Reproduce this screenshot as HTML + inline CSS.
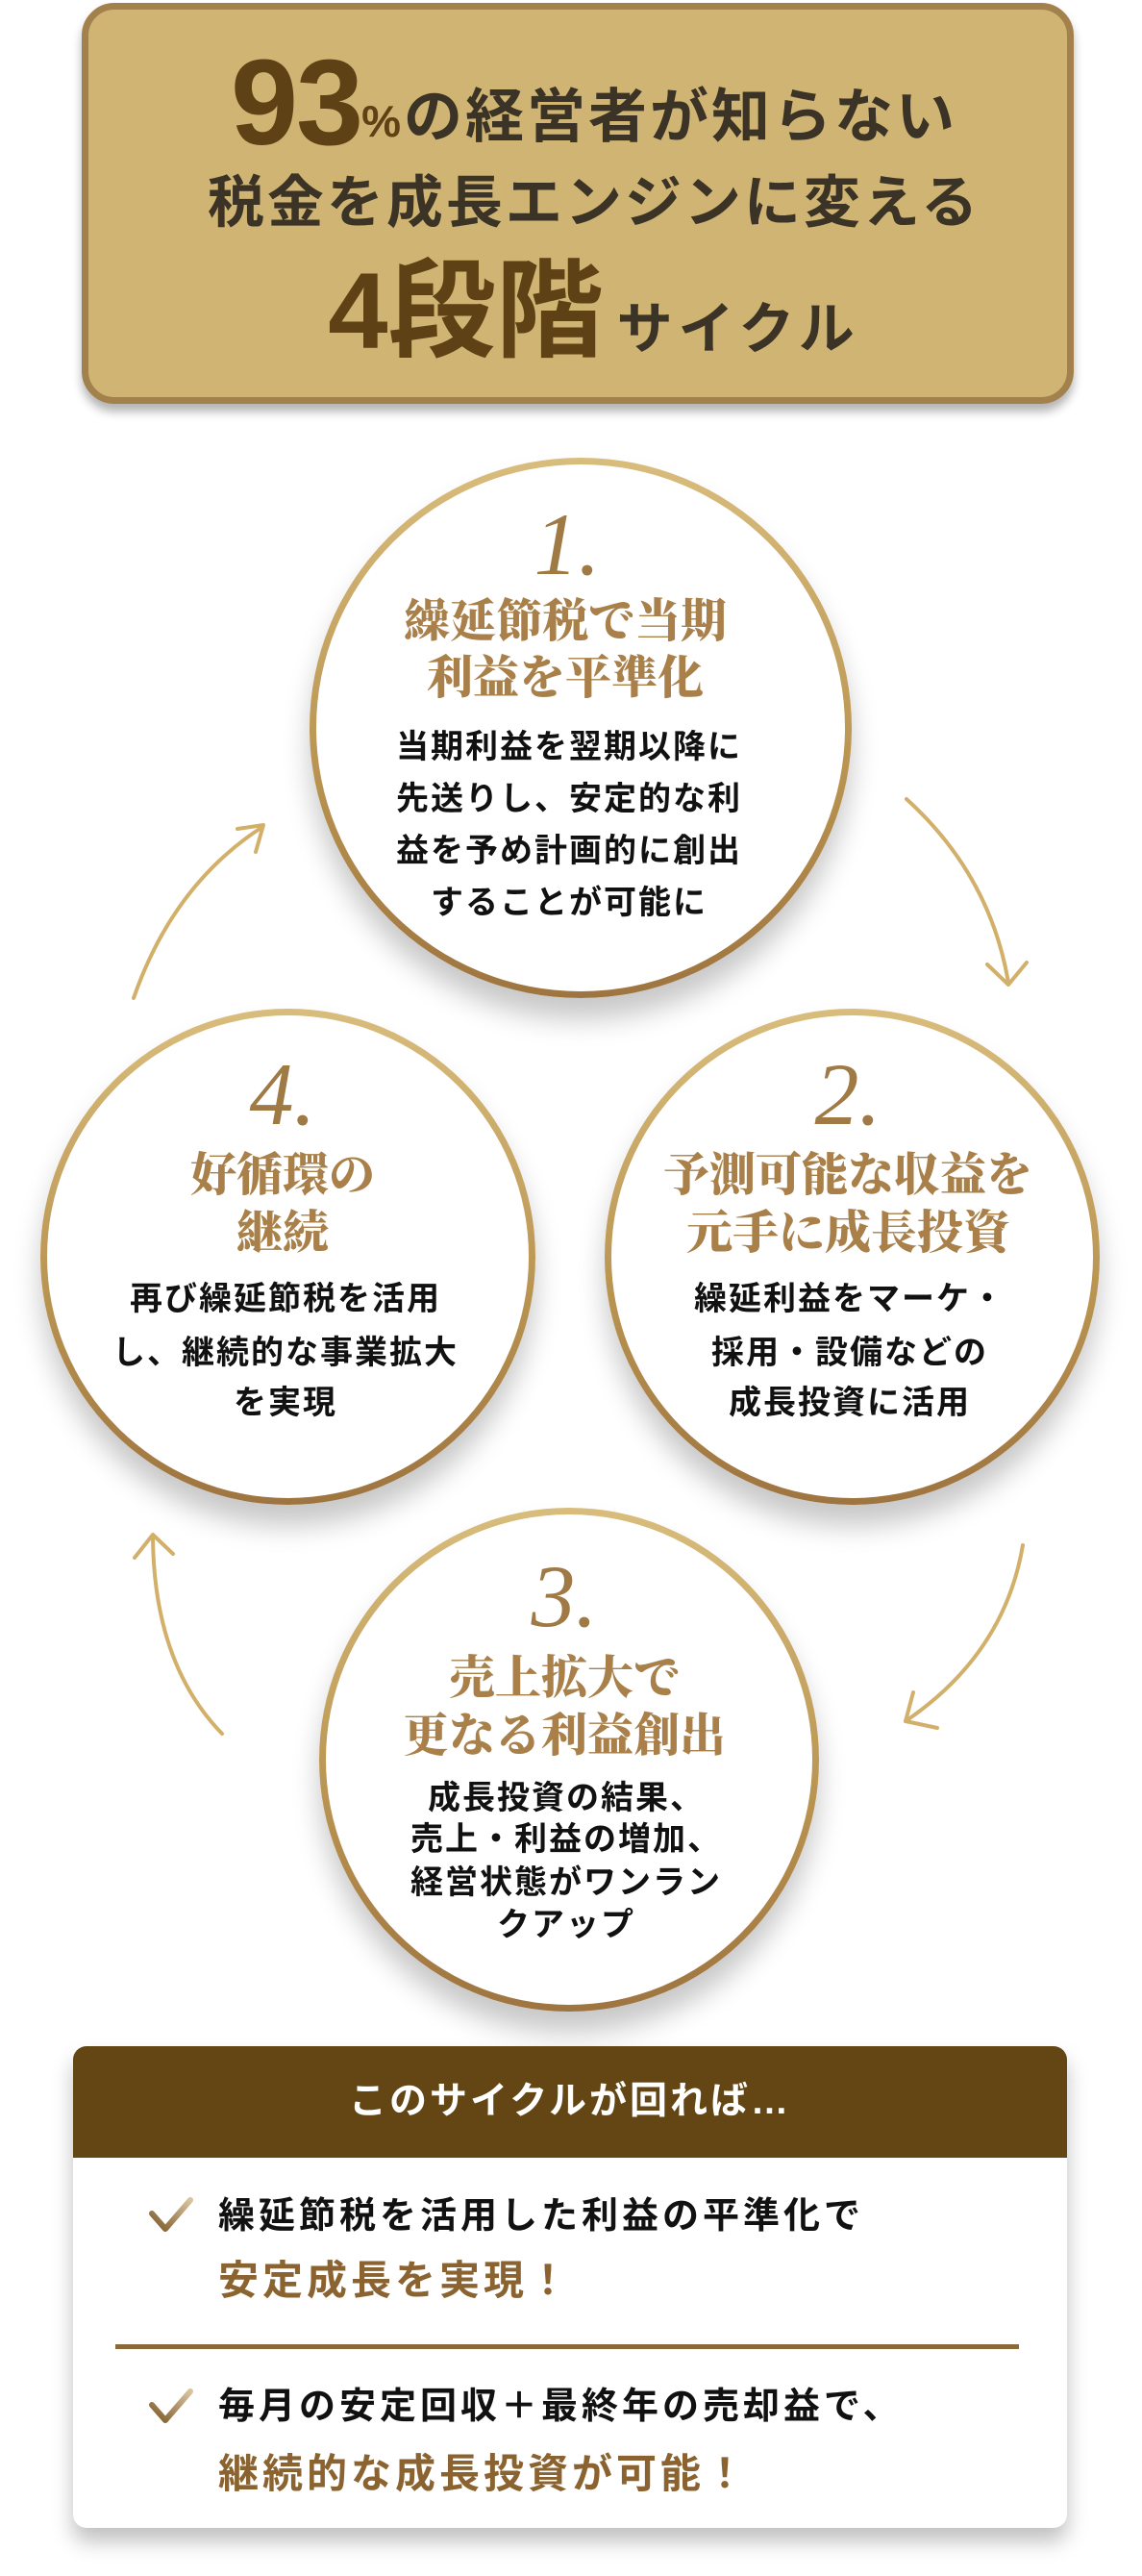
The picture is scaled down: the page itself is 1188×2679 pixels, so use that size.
<!DOCTYPE html>
<html><head><meta charset="utf-8"><style>
*{margin:0;padding:0;box-sizing:border-box}
body{width:1188px;height:2679px;background:#fff;position:relative;overflow:hidden;font-family:"Liberation Sans","Noto Sans CJK JP",sans-serif}
.abs{position:absolute}
.hdr{left:85px;top:3px;width:1032px;height:417px;border:7px solid #a3814d;background:#cfb473;border-radius:34px;box-shadow:0 8px 10px rgba(0,0,0,.3)}
.ln{position:absolute;white-space:nowrap;text-align:center;font-weight:700}
.ring{position:absolute;border-radius:50%;background:linear-gradient(180deg,#d9bd7d,#b8924f 60%,#9e7440);box-shadow:0 22px 28px rgba(0,0,0,.22)}
.ring>i{position:absolute;left:7px;top:7px;right:7px;bottom:7px;border-radius:50%;background:#fff}
.num{font-family:"Liberation Serif",serif;font-style:italic;font-weight:400;color:#a07a45;font-size:92px;line-height:92px}
.tt{font-family:"Noto Serif CJK SC","Noto Serif CJK JP",serif;font-weight:900;color:#a98049;font-size:48px;line-height:60px}
.bd{color:#111;font-size:34px;line-height:40px;letter-spacing:2px;font-weight:700}
</style></head><body>
<div class="abs hdr"></div>
<div class="ln" style="left:24px;width:1188px;top:52px;color:#5e4114;font-size:61px;line-height:110px;letter-spacing:3px">
<span style="font-size:126px;letter-spacing:-2px;vertical-align:-8px">93</span><span style="font-size:46px">%</span><span style="color:#3b3326">の経営者が知らない</span></div>
<div class="ln" style="left:24px;width:1188px;top:176px;color:#3b3326;font-size:59px;line-height:70px;letter-spacing:3px">税金を成長エンジンに変える</div>
<div class="ln" style="left:24px;width:1188px;top:262px;color:#5e4114;font-size:112px;line-height:124px">4段階<span style="font-size:58px;color:#3b3326;letter-spacing:6px;margin-left:14px">サイクル</span></div>

<svg class="abs" style="left:0;top:0" width="1188" height="2679">
<g fill="none" stroke="#d2b06a" stroke-width="4" stroke-linecap="round" stroke-linejoin="round">
<path d="M943 831 Q1030 910 1049 1022"/><path d="M1027 1003 L1049 1024 L1068 1001"/>
<path d="M1064 1607 Q1045 1720 942 1790"/><path d="M950 1760 L942 1790 L975 1797"/>
<path d="M231 1803 Q160 1730 159 1598"/><path d="M140 1620 L159 1596 L180 1616"/>
<path d="M139 1038 Q180 920 273 860"/><path d="M247 862 L274 858 L266 886"/>
</g></svg>

<div class="ring" style="left:322px;top:476px;width:564px;height:562px"><i></i></div>
<div class="ln num" style="left:290px;width:600px;top:520px">1.</div>
<div class="ln tt" style="left:288px;width:600px;top:612px">繰延節税で当期</div>
<div class="ln tt" style="left:288px;width:600px;top:671px">利益を平準化</div>
<div class="ln bd" style="left:292px;width:600px;top:757px">当期利益を翌期以降に</div>
<div class="ln bd" style="left:292px;width:600px;top:811px">先送りし、安定的な利</div>
<div class="ln bd" style="left:292px;width:600px;top:865px">益を予め計画的に創出</div>
<div class="ln bd" style="left:292px;width:600px;top:919px">することが可能に</div>

<div class="ring" style="left:42px;top:1049px;width:515px;height:516px"><i></i></div>
<div class="ln num" style="left:-6px;width:600px;top:1092px">4.</div>
<div class="ln tt" style="left:-6px;width:600px;top:1188px">好循環の</div>
<div class="ln tt" style="left:-6px;width:600px;top:1248px">継続</div>
<div class="ln bd" style="left:-3px;width:600px;top:1331px">再び繰延節税を活用</div>
<div class="ln bd" style="left:-3px;width:600px;top:1387px">し、継続的な事業拡大</div>
<div class="ln bd" style="left:-3px;width:600px;top:1439px">を実現</div>

<div class="ring" style="left:629px;top:1049px;width:515px;height:516px"><i></i></div>
<div class="ln num" style="left:582px;width:600px;top:1092px">2.</div>
<div class="ln tt" style="left:582px;width:600px;top:1188px">予測可能な収益を</div>
<div class="ln tt" style="left:582px;width:600px;top:1248px">元手に成長投資</div>
<div class="ln bd" style="left:584px;width:600px;top:1331px">繰延利益をマーケ・</div>
<div class="ln bd" style="left:584px;width:600px;top:1387px">採用・設備などの</div>
<div class="ln bd" style="left:584px;width:600px;top:1439px">成長投資に活用</div>

<div class="ring" style="left:332px;top:1568px;width:520px;height:524px"><i></i></div>
<div class="ln num" style="left:287px;width:600px;top:1614px">3.</div>
<div class="ln tt" style="left:287px;width:600px;top:1711px">売上拡大で</div>
<div class="ln tt" style="left:287px;width:600px;top:1771px">更なる利益創出</div>
<div class="ln bd" style="left:289px;width:600px;top:1850px">成長投資の結果、</div>
<div class="ln bd" style="left:289px;width:600px;top:1893px">売上・利益の増加、</div>
<div class="ln bd" style="left:289px;width:600px;top:1938px">経営状態がワンラン</div>
<div class="ln bd" style="left:289px;width:600px;top:1982px">クアップ</div>

<div class="abs" style="left:76px;top:2128px;width:1034px;height:501px;background:#fff;border-radius:14px;box-shadow:0 14px 22px rgba(0,0,0,.25)"></div>
<div class="abs" style="left:76px;top:2128px;width:1034px;height:116px;background:#634613;border-radius:14px 14px 0 0"></div>
<div class="ln" style="left:76px;width:1034px;top:2162px;color:#fff;font-size:39px;line-height:48px;letter-spacing:3px">このサイクルが回れば…</div>
<svg class="abs" style="left:150px;top:2280px" width="60" height="50"><defs><linearGradient id="g" x1="1" y1="0" x2="0" y2="1"><stop offset="0" stop-color="#d9c4a0"/><stop offset="1" stop-color="#7d5a28"/></linearGradient></defs><path d="M8 22 L22 38 L48 8" fill="none" stroke="url(#g)" stroke-width="6" stroke-linecap="round" stroke-linejoin="round"/></svg>
<div class="ln" style="left:227px;top:2282px;text-align:left;font-size:38px;line-height:46px;letter-spacing:4px;color:#111">繰延節税を活用した利益の平準化で</div>
<div class="ln" style="left:227px;top:2347px;text-align:left;font-size:42px;line-height:50px;letter-spacing:4px;color:#8a6330">安定成長を実現！</div>
<div class="abs" style="left:120px;top:2438px;width:940px;height:5px;background:#8a6a3a"></div>
<svg class="abs" style="left:150px;top:2479px" width="60" height="50"><path d="M8 22 L22 38 L48 8" fill="none" stroke="url(#g)" stroke-width="6" stroke-linecap="round" stroke-linejoin="round"/></svg>
<div class="ln" style="left:227px;top:2480px;text-align:left;font-size:38px;line-height:46px;letter-spacing:4px;color:#111">毎月の安定回収＋最終年の売却益で、</div>
<div class="ln" style="left:227px;top:2548px;text-align:left;font-size:42px;line-height:50px;letter-spacing:4px;color:#8a6330">継続的な成長投資が可能！</div>
</body></html>
